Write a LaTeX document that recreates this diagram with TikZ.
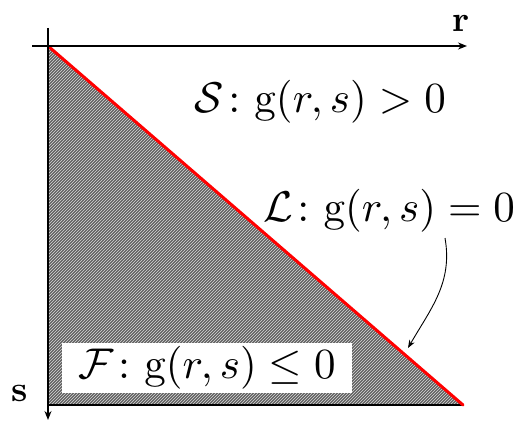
\documentclass[tikz,border=0pt]{standalone}
\usepackage{amsmath,amssymb}
\usetikzlibrary{arrows.meta,patterns}
\begin{document}
\begin{tikzpicture}[x=1pt,y=1pt,
  axis/.style={line width=1.3pt,-{Stealth[length=9pt,width=7pt]}},
  lbl/.style={scale=4.3,inner sep=0.5pt},
  axlbl/.style={scale=3.6,inner sep=0.3pt}]
\useasboundingbox (0,0) rectangle (516,423);
% corners of the feasible region
\coordinate (o) at (48,377);
\coordinate (bl) at (48,18);
\coordinate (br) at (463,18);
% shaded region F
\fill[black!62] (o) -- (br) -- (bl) -- cycle;
\fill[pattern=north east lines,pattern color=white!85!black] (o) -- (br) -- (bl) -- cycle;
\draw[line width=1.3pt] (bl) -- (br);
\draw[red,line width=3pt,line cap=round] (o) -- (br);
% axes
\draw[axis] (32,377) -- (467,377);
\draw[axis] (48,395) -- (48,3);
\node[axlbl] (rlab) at (461,400) {\textbf{r}};
\node[axlbl] (slab) at (20,30) {\textbf{s}};
% region labels
\node[lbl] (safe) at (320,321) {$\mathcal{S}\colon \mathrm{g}(r,s) > 0$};
\node[lbl] (limit) at (389,212) {$\mathcal{L}\colon \mathrm{g}(r,s) = 0$};
\node[lbl,fill=white,minimum width=67.4pt,minimum height=11.6pt] (fail) at (207,55) {$\mathcal{F}\colon \mathrm{g}(r,s) \leq 0$};
% pointer to the limit line
\coordinate (hit) at (408,75);
\draw[line width=0.9pt,-{Stealth[length=8pt,width=6pt]}] (445,185) to[out=-80,in=60] (hit);
\end{tikzpicture}
\end{document}
